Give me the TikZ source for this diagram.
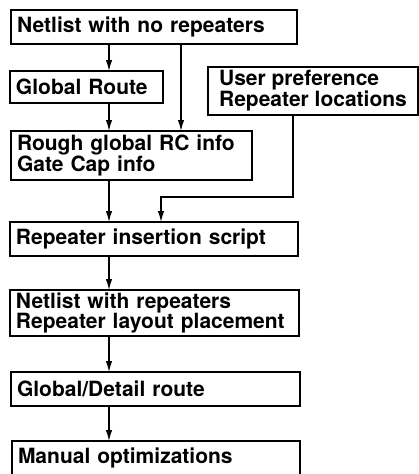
\documentclass[tikz,border=0pt]{standalone}
\usepackage{fontspec}
\setmainfont{TeX Gyre Heros}
\usetikzlibrary{arrows.meta,calc}

\tikzset{
  box/.style={draw,line width=1.4pt,anchor=north west,outer sep=0pt,
    inner xsep=6pt,inner ysep=2pt,align=left,
    font=\fontsize{21}{20}\selectfont\bfseries},
  arr/.style={line width=1.4pt,-{Latex[length=11pt,width=6.5pt]}}
}

\begin{document}
\begin{tikzpicture}[x=1pt,y=-1pt]
\clip (0,0) rectangle (419,474);
\fill[white] (0,0) rectangle (419,474);

% flow boxes
\node[box,text width=274pt,minimum height=34pt] (netin) at (11,10) {Netlist with no repeaters};
\node[box,text width=141pt,minimum height=32pt] (groute) at (10,71) {Global Route};
\node[box,minimum width=210pt,minimum height=48pt] (pref) at (208,67) {User preference\\Repeater locations};
\node[box,text width=229pt,minimum height=49pt] (rcinfo) at (11,131) {Rough global RC info\\Gate Cap info};
\node[box,text width=276pt,minimum height=34pt] (script) at (10,222) {Repeater insertion script};
\node[box,text width=277pt,minimum height=46pt] (netout) at (10,290) {Netlist with repeaters\\Repeater layout placement};
\node[box,text width=277pt,minimum height=34pt] (droute) at (11,372) {Global/Detail route};
\node[box,text width=276pt,minimum height=34pt] (manual) at (12,441) {Manual optimizations};

% columns for the connectors
\coordinate (col) at (109,0);
\coordinate (col2) at (181,0);
\coordinate (rcol) at (293,0);
\coordinate (jog) at (161,197);

\draw[arr] (netin.south -| col) -- (groute.north -| col);
\draw[arr] (netin.south -| col2) -- (rcinfo.north -| col2);
\draw[arr] (groute.south -| col) -- (rcinfo.north -| col);
\draw[arr] (rcinfo.south -| col) -- (script.north -| col);
\draw[arr] (pref.south -| rcol) |- (jog) -- (script.north -| jog);
\draw[arr] (script.south -| col) -- (netout.north -| col);
\draw[arr] (netout.south -| col) -- (droute.north -| col);
\draw[arr] (droute.south -| col) -- (manual.north -| col);

\end{tikzpicture}
\end{document}
